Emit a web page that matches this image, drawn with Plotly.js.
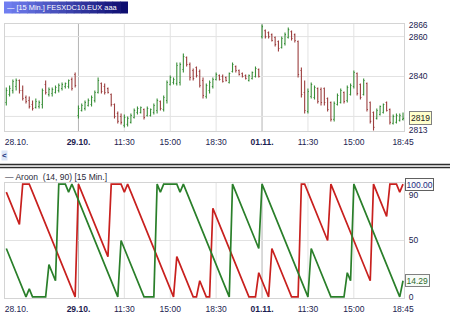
<!DOCTYPE html>
<html><head><meta charset="utf-8">
<script src="https://cdn.plot.ly/plotly-3.0.1.min.js"></script>
<style>html,body{margin:0;padding:0;background:#fff;}#chart{width:450px;height:316px;}</style>
</head><body><div id="chart"></div>
<script>
// 15-minute bars: 28.10. 16:30 ... 01.11. 18:45 (index 0..121)
const opens = [2827,2831,2833,2835,2838,2833,2829.5,2828,2826,2824.5,
2825,2826,2836,2831,2831.5,2832,2833,2834,2835,2835,
2838.5,2841,2820.5,2823,2824,2825.5,2826,2828,2832,2836.5,
2835,2834,2831,2826,2821.5,2820,2815.5,2816,2817,2819.5,
2822,2822,2823.5,2820.5,2820.5,2822,2823,2827.5,2823.5,2828,
2836,2837,2836.5,2837,2843.5,2849.5,2846,2843,2844.5,2842.5,
2838,2830,2833,2835,2838.5,2840.5,2840,2839.5,2837,2842.5,
2845,2843,2841.5,2840.5,2838,2839,2840,2843.5,2860,2863,
2862,2861,2859.5,2857.5,2854.5,2856.5,2859.5,2862.5,2861,2857.5,
2843,2832,2822.5,2830,2829.5,2834,2833.5,2834,2829,2827,
2818.5,2826,2827,2832,2828,2831,2835,2841.5,2836,2831,
2836.5,2827,2822,2819,2821,2822,2827,2823.5,2816.5,2817,
2818,2818.5];
const highs = [2834.5,2835.5,2838.5,2839,2838.5,2835.5,2830.5,2830,2828,2829,
2828,2834,2838,2834.5,2834.5,2835.5,2836.5,2837,2837,2838.5,
2839.5,2842,2825.5,2826.5,2828,2829,2830.5,2833,2839.5,2837,
2836.5,2834.5,2831.5,2826.5,2822.5,2821.5,2821,2820,2821.5,2824,
2825,2825,2824,2825,2824,2826.5,2829,2828,2830.5,2838,
2840.5,2839.5,2847,2847,2851.5,2850,2847,2844,2845,2843.5,
2839.5,2836.5,2838,2839.5,2842,2841,2841,2840,2842,2847,
2845.5,2843.5,2842,2841,2841,2842.5,2845,2844,2866,2863.5,
2862.5,2861.5,2860,2858,2860,2862,2864.5,2863,2861.5,2858,
2844.5,2838,2834,2837,2835.5,2834.5,2834.5,2834.5,2829.5,2827.5,
2827.5,2831.5,2834,2832.5,2835.5,2836.5,2843,2842,2836.5,2839,
2837,2827.5,2822.5,2824,2825.5,2826.5,2827.5,2824,2821,2821.5,
2821.5,2822];
const lows = [2825.5,2830,2831.5,2833,2831.5,2828,2826.5,2824,2823,2824,
2824,2824,2831,2830,2830,2831.5,2832,2833,2834,2834,
2833,2834.5,2819,2822.5,2823,2825,2825,2827,2831.5,2831.5,
2831,2831.5,2825,2819,2816.5,2816,2814.5,2815,2816.5,2819,
2821,2821.5,2818.5,2820,2820,2821,2821.5,2823,2822.5,2826.5,
2835.5,2836,2835.5,2835.5,2842,2845,2838,2838,2839.5,2834.5,
2829,2829,2831.5,2834,2838,2838,2837,2837.5,2836.5,2842,
2842,2840.5,2839.5,2838.5,2837.5,2838.5,2839.5,2839.5,2859,2859,
2859,2857.5,2855,2852.5,2854,2855.5,2859,2858,2857,2839.5,
2829.5,2821.5,2821.5,2829,2828.5,2826.5,2825.5,2825.5,2822.5,2817.5,
2817.5,2825.5,2826.5,2826.5,2827,2830.5,2834,2830.5,2828.5,2830.5,
2822.5,2816.5,2813,2818.5,2820.5,2821.5,2822.5,2816,2816,2816.5,
2817.5,2818];
const closes = [2833,2834,2837.5,2838,2833,2829,2827.5,2825,2824,2827.5,
2827,2833,2832,2833.5,2833.5,2834.5,2835.5,2836,2836.5,2838,
2834,2835.5,2824,2825.5,2827,2828,2829.5,2832,2838,2832.5,
2832,2832,2826,2820,2817.5,2817,2819.5,2819,2820.5,2823,
2824,2824.5,2819.5,2824,2823.5,2825.5,2828,2824,2829.5,2837,
2839.5,2838.5,2845.5,2846,2850,2846,2839.5,2839,2840.5,2835.5,
2830.5,2835.5,2837,2838.5,2841,2838.5,2837.5,2838,2841.5,2846,
2843,2841,2840,2839,2840.5,2842,2844,2840,2865,2860,
2860,2858,2856,2854,2859,2861,2863.5,2859,2858,2841,
2831,2823,2832.5,2836,2834.5,2827.5,2827,2827,2823.5,2818.5,
2826.5,2830.5,2833,2827.5,2834.5,2835.5,2842,2831.5,2829.5,2838,
2823.5,2817.5,2814.5,2823,2825,2826,2823,2817,2820,2820.5,
2820.5,2819];
// Aroon (14)
const aroonUp = [42.86,35.71,28.57,21.43,14.29,7.14,0,7.14,0,0,
0,0,0,28.57,21.43,14.29,100,100,100,92.86,
100,92.86,85.71,78.57,71.43,64.29,57.14,50,42.86,35.71,
28.57,21.43,14.29,7.14,0,50,42.86,35.71,28.57,21.43,
14.29,7.14,0,0,0,0,100,92.86,100,100,
100,100,100,92.86,100,92.86,85.71,78.57,71.43,64.29,
57.14,50,42.86,35.71,28.57,21.43,14.29,7.14,0,100,
92.86,85.71,78.57,71.43,64.29,57.14,50,42.86,100,92.86,
85.71,78.57,71.43,64.29,57.14,50,42.86,35.71,28.57,21.43,
14.29,7.14,0,42.86,35.71,28.57,21.43,14.29,7.14,0,
0,0,0,0,21.43,14.29,100,92.86,85.71,78.57,
71.43,64.29,57.14,50,42.86,35.71,28.57,21.43,14.29,7.14,
0,14.29];
const aroonDown = [92.86,85.71,78.57,71.43,64.29,100,100,100,92.86,85.71,
78.57,71.43,64.29,57.14,50,42.86,35.71,28.57,21.43,14.29,
7.14,0,100,92.86,85.71,78.57,71.43,64.29,57.14,50,
42.86,35.71,100,100,100,100,92.86,100,92.86,85.71,
78.57,71.43,64.29,57.14,50,42.86,35.71,28.57,21.43,14.29,
7.14,0,35.71,28.57,21.43,14.29,7.14,0,0,14.29,
7.14,0,0,78.57,71.43,64.29,57.14,50,42.86,35.71,
28.57,21.43,14.29,7.14,0,0,0,21.43,14.29,7.14,
0,42.86,35.71,28.57,21.43,14.29,7.14,0,0,0,
100,100,92.86,85.71,78.57,71.43,64.29,57.14,50,100,
92.86,85.71,78.57,71.43,64.29,57.14,50,42.86,35.71,28.57,
21.43,14.29,100,92.86,85.71,78.57,71.43,100,100,100,
92.86,100];
const tickIdx = [3.1, 22, 36, 50, 64, 78, 92, 106, 121];
const tickLabels = ['28.10.', '<b>29.10.</b>', '11:30', '15:00', '18:30', '<b>01.11.</b>', '11:30', '15:00', '18:45'];
const dayIdx = [22, 78];
const gridIdx = [36, 50, 64, 92, 106];
const priceGrid = [2820, 2840, 2860];
const priceTicks = [2813, 2840, 2860, 2866];
const aroonTicks = [0, 50, 90];
const aroonGrid = [50];

const idx = closes.map((_, i) => i);
const FONT = 'Liberation Sans, Arial, sans-serif';
const TXT = '#1c1c50';
const H = 316, PT = 24, PB = 298, PL = 5, PR = 404;
const py = p => (PB - p) / (PB - PT);
const px = p => (p - PL) / (PR - PL);

const traces = [
  {type:'ohlc', x: idx, open: opens, high: highs, low: lows, close: closes,
   xaxis:'x', yaxis:'y', tickwidth:0.3,
   increasing:{line:{color:'#3a8f3a', width:1.1}},
   decreasing:{line:{color:'#9c3f3f', width:1.1}}, hoverinfo:'skip', showlegend:false},
  {type:'scatter', mode:'lines', x: idx, y: aroonDown, xaxis:'x2', yaxis:'y2',
   line:{color:'#c8201e', width:1.7}, showlegend:false, hoverinfo:'skip'},
  {type:'scatter', mode:'lines', x: idx, y: aroonUp, xaxis:'x2', yaxis:'y2',
   line:{color:'#2a7f2a', width:1.7}, showlegend:false, hoverinfo:'skip'}
];

const shapes = [];
function vline(xr, yr, v, col){ shapes.push({type:'line', layer:'below', xref:xr, yref:yr+' domain', x0:v, x1:v, y0:0, y1:1, line:{color:col, width:1}}); }
function hline(xr, yr, v, col){ shapes.push({type:'line', layer:'below', xref:xr+' domain', yref:yr, x0:0, x1:1, y0:v, y1:v, line:{color:col, width:1}}); }
['x','x2'].forEach((xr, k) => {
  const yr = k === 0 ? 'y' : 'y2';
  gridIdx.forEach(v => vline(xr, yr, v, '#e2e2e2'));
  dayIdx.forEach(v => vline(xr, yr, v, '#b4b4b4'));
});
priceGrid.forEach(v => hline('x', 'y', v, '#e2e2e2'));
aroonGrid.forEach(v => hline('x2', 'y2', v, '#e2e2e2'));

// header gradient box
const nStrip = 16, hx0 = 4, hx1 = 128;
for (let s = 0; s < nStrip; s++) {
  const t = s / (nStrip - 1);
  const r = Math.round(112 + (14 - 112) * t), g = Math.round(126 + (14 - 126) * t), b = Math.round(240 + (112 - 240) * t);
  const a0 = hx0 + (hx1 - hx0) * s / nStrip, a1 = hx0 + (hx1 - hx0) * (s + 1) / nStrip + 0.6;
  shapes.push({type:'rect', xref:'paper', yref:'paper', x0:px(a0), x1:px(Math.min(a1, hx1)), y0:py(13.5), y1:py(1.5), line:{width:0}, fillcolor:`rgb(${r},${g},${b})`});
}
// separator between panels
const sx0 = px(0), sx1 = px(450);
shapes.push({type:'line', xref:'paper', yref:'paper', x0:sx0, x1:sx1, y0:py(164.5), y1:py(164.5), line:{color:'#2e2e2e', width:1.4}});
shapes.push({type:'line', xref:'paper', yref:'paper', x0:sx0, x1:sx1, y0:py(166), y1:py(166), line:{color:'#b0b0b0', width:1.2}});
shapes.push({type:'line', xref:'paper', yref:'paper', x0:sx0, x1:sx1, y0:py(167.6), y1:py(167.6), line:{color:'#2e2e2e', width:1.4}});

const last = closes.length - 1;
const annotations = [
  {xref:'paper', yref:'paper', x:px(5), y:py(7.6), xanchor:'left', yanchor:'middle', showarrow:false,
   text:'— [15 Min.] FESXDC10.EUX aaa', font:{family:FONT, size:7.4, color:'#ffffff'}},
  {xref:'paper', yref:'paper', x:px(3), y:py(177), xanchor:'left', yanchor:'middle', showarrow:false,
   text:'— Aroon  (14, 90) [15 Min.]', font:{family:FONT, size:8.5, color:'#2a2a3a'}},
  {xref:'paper', yref:'paper', x:px(0.5), y:py(155), xanchor:'left', yanchor:'middle', showarrow:false,
   text:'<b>&lt;</b>', bgcolor:'#dce6f7', borderpad:0, font:{family:FONT, size:8, color:'#20307a'}},
  {xref:'paper', yref:'y', x:px(409), y:closes[last], xanchor:'left', yanchor:'middle', showarrow:false,
   text:String(closes[last]), bgcolor:'#ffffcc', bordercolor:'#808080', borderwidth:1, borderpad:1,
   font:{family:FONT, size:8.5, color:'#222'}},
  {xref:'paper', yref:'y2', x:px(405.5), y:aroonDown[last], xanchor:'left', yanchor:'middle', showarrow:false,
   text:aroonDown[last].toFixed(2), bgcolor:'#fbfbfb', bordercolor:'#606060', borderwidth:1, borderpad:0.5,
   font:{family:FONT, size:8.5, color:'#1a2a80'}},
  {xref:'paper', yref:'y2', x:px(405), y:aroonUp[last], xanchor:'left', yanchor:'middle', showarrow:false,
   text:aroonUp[last].toFixed(2), bgcolor:'#f7fbf7', bordercolor:'#808080', borderwidth:1, borderpad:0.5,
   font:{family:FONT, size:8.5, color:'#2e6b2e'}}
];

const xCommon = {range:[-0.4, 121.3], showgrid:false, zeroline:false, tickvals:tickIdx, ticktext:tickLabels,
  ticks:'', tickfont:{family:FONT, size:8.5, color:TXT}, showline:true, mirror:true, linecolor:'#d4d4d4', linewidth:1,
  rangeslider:{visible:false}, fixedrange:true, ticklabelstandoff:3};
const yCommon = {side:'right', showgrid:false, zeroline:false, ticks:'', showline:true, mirror:true,
  linecolor:'#d4d4d4', linewidth:1, tickfont:{family:FONT, size:8.5, color:TXT}, fixedrange:true, ticklabelstandoff:2};

const layout = {
  width:450, height:H, margin:{l:PL, r:450-PR, t:PT, b:H-PB}, paper_bgcolor:'#ffffff', plot_bgcolor:'#ffffff',
  showlegend:false,
  xaxis: Object.assign({}, xCommon, {anchor:'y', domain:[0,1]}),
  xaxis2: Object.assign({}, xCommon, {anchor:'y2', domain:[0,1]}),
  yaxis: Object.assign({}, yCommon, {anchor:'x', domain:[py(131), 1], range:[2812.7, 2866.3], tickvals:priceTicks, ticktext:priceTicks.map(String)}),
  yaxis2: Object.assign({}, yCommon, {anchor:'x2', domain:[0, py(183)], range:[-1, 101], tickvals:aroonTicks, ticktext:aroonTicks.map(String)}),
  shapes: shapes, annotations: annotations
};
Plotly.newPlot('chart', traces, layout, {staticPlot:true, displayModeBar:false});
</script></body></html>
